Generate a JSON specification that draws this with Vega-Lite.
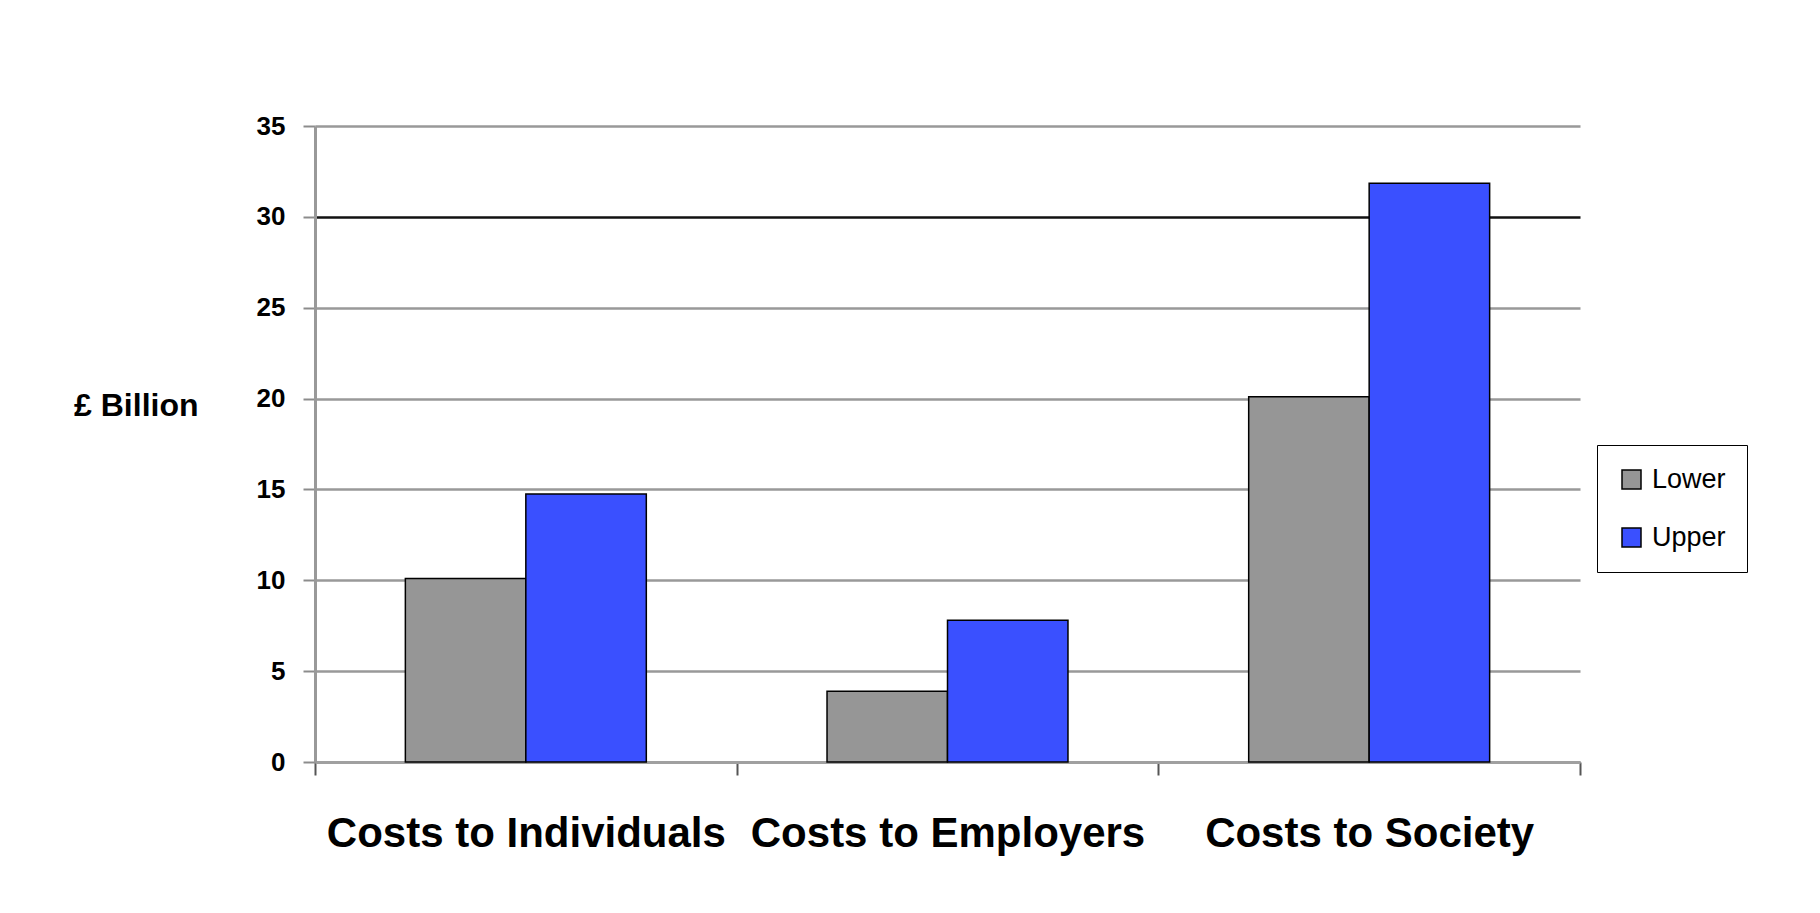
{
  "$schema": "https://vega.github.io/schema/vega-lite/v6.json",
  "width": 1265,
  "height": 636,
  "autosize": {"type": "none"},
  "padding": {"left": 315, "top": 126, "right": 240, "bottom": 151},
  "background": "white",
  "config": {
    "view": {"stroke": null},
    "font": "Liberation Sans"
  },
  "data": {
    "values": [
      {"category": "Costs to Individuals", "bound": "Lower", "value": 10.1},
      {"category": "Costs to Individuals", "bound": "Upper", "value": 14.75},
      {"category": "Costs to Employers", "bound": "Lower", "value": 3.9},
      {"category": "Costs to Employers", "bound": "Upper", "value": 7.8},
      {"category": "Costs to Society", "bound": "Lower", "value": 20.1},
      {"category": "Costs to Society", "bound": "Upper", "value": 31.85}
    ]
  },
  "mark": {"type": "bar", "stroke": "#000000", "strokeWidth": 1.5},
  "encoding": {
    "x": {
      "field": "category",
      "type": "nominal",
      "sort": ["Costs to Individuals", "Costs to Employers", "Costs to Society"],
      "scale": {"paddingInner": 0, "paddingOuter": 0},
      "axis": {
        "title": null,
        "labelAngle": 0,
        "labelFont": "Liberation Sans",
        "labelFontSize": 42,
        "labelFontWeight": "bold",
        "labelColor": "#000000",
        "labelPadding": 38,
        "labelLimit": 0,
        "tickBand": "extent",
        "tickSize": 13,
        "tickWidth": 2,
        "tickColor": "#555555",
        "domainColor": "#a0a0a0",
        "domainWidth": 3,
        "grid": false
      }
    },
    "xOffset": {
      "field": "bound",
      "type": "nominal",
      "scale": {"paddingInner": 0, "paddingOuter": 0.75}
    },
    "y": {
      "field": "value",
      "type": "quantitative",
      "scale": {"domain": [0, 35], "nice": false},
      "axis": {
        "values": [0, 5, 10, 15, 20, 25, 30, 35],
        "title": "£ Billion",
        "titleFont": "Liberation Sans",
        "titleFontSize": 32,
        "titleFontWeight": "bold",
        "titleColor": "#000000",
        "titleAngle": 0,
        "titleAlign": "right",
        "titleBaseline": "middle",
        "titleX": -117,
        "titleY": 279,
        "labelFont": "Liberation Sans",
        "labelFontSize": 26,
        "labelFontWeight": "bold",
        "labelColor": "#000000",
        "labelPadding": 18,
        "tickSize": 12,
        "tickWidth": 2,
        "tickColor": "#8c8c8c",
        "domainColor": "#999999",
        "domainWidth": 3,
        "grid": true,
        "gridColor": {"condition": {"test": "datum.value === 30", "value": "#111111"}, "value": "#999999"},
        "gridWidth": 2.5,
        "gridOpacity": 1
      }
    },
    "color": {
      "field": "bound",
      "type": "nominal",
      "scale": {"domain": ["Lower", "Upper"], "range": ["#969696", "#3A50FF"]},
      "legend": {
        "title": null,
        "orient": "none",
        "legendX": 1282,
        "legendY": 319,
        "direction": "vertical",
        "strokeColor": "#000000",
        "fillColor": "#ffffff",
        "padding": 21,
        "symbolType": "square",
        "symbolSize": 361,
        "symbolStrokeColor": "#000000",
        "symbolStrokeWidth": 1.5,
        "symbolOpacity": 1,
        "labelFont": "Liberation Sans",
        "labelFontSize": 27,
        "labelColor": "#000000",
        "labelOffset": 7,
        "rowPadding": 30
      }
    }
  }
}
